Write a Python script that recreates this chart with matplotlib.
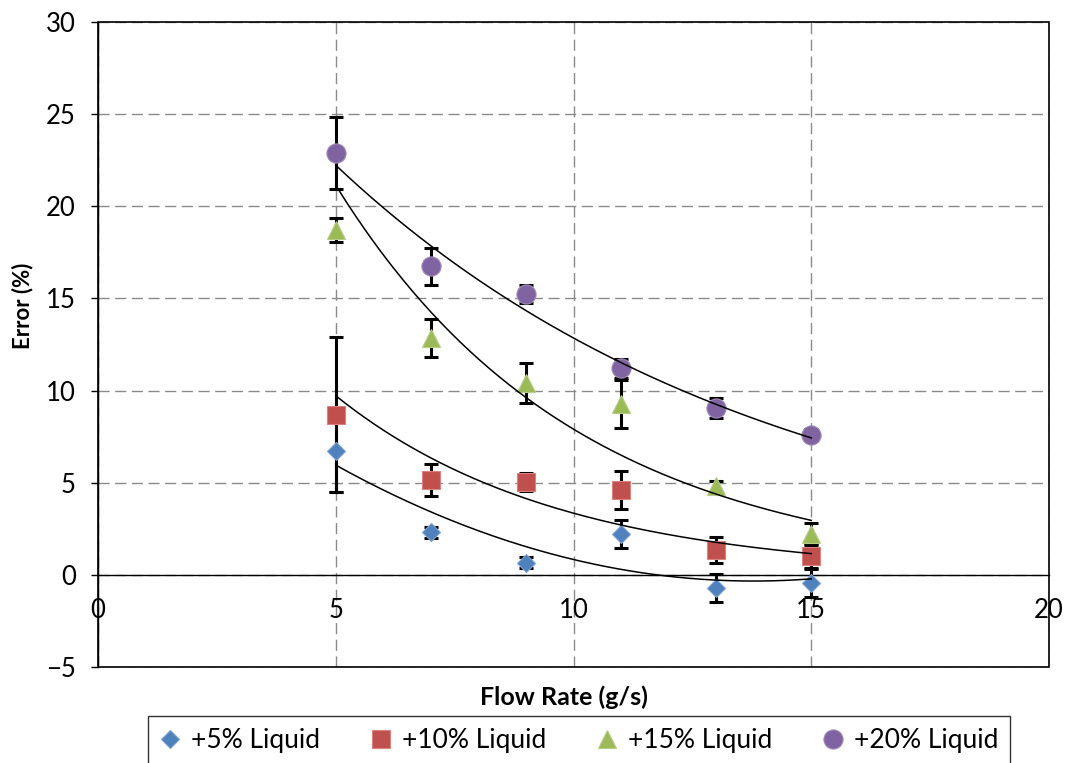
import numpy as np
import matplotlib
matplotlib.use('Agg')
import matplotlib.pyplot as plt
from matplotlib.patches import Rectangle

plt.rcParams['font.family'] = ['Lato', 'DejaVu Sans']

flow = [5, 7, 9, 11, 13, 15]
err5 = [6.7, 2.3, 0.65, 2.2, -0.7, -0.45]
err10 = [8.7, 5.15, 5.05, 4.6, 1.35, 1.0]
err15 = [18.7, 12.85, 10.4, 9.25, 4.8, 2.2]
err20 = [22.9, 16.75, 15.25, 11.2, 9.05, 7.6]
sd5 = [2.2, 0.3, 0.3, 0.75, 0.75, 0.75]
sd10 = [4.2, 0.85, 0.5, 1.05, 0.7, 0.65]
sd15 = [0.65, 1.05, 1.1, 1.3, 0.3, 0.6]
sd20 = [1.95, 1.0, 0.5, 0.5, 0.55, 0.3]
labels = ['+5% Liquid', '+10% Liquid', '+15% Liquid', '+20% Liquid']

fig = plt.figure(figsize=(10.7, 7.63), dpi=100)
ax = fig.add_axes([98/1070, 1 - 667/763, 951/1070, 645/763])

series = [
    (err5, sd5, 'D', 9.3, '#4F81BD', '#7EA1D0', 'poly'),
    (err10, sd10, 's', 13.5, '#C0504D', '#D98280', 'exp'),
    (err15, sd15, '^', 13.5, '#9BBB59', '#B5CD85', 'exp'),
    (err20, sd20, 'o', 13.8, '#8064A2', '#A08BBD', 'exp'),
]

x = np.array(flow, dtype=float)
xs = np.linspace(5, 15, 200)
for (y, sd, mk, ms, col, ecol, fit), lab in zip(series, labels):
    y = np.array(y)
    ax.errorbar(x, y, yerr=sd, fmt='none', ecolor='black', elinewidth=2.2,
                capsize=5, capthick=2.2, zorder=2)
    ax.plot(x, y, ls='none', marker=mk, ms=ms, mfc=col, mec=ecol, mew=0.8,
            label=lab, zorder=3)
    # excel style trendlines: exponential, or 2nd order poly for the 5% set
    if fit == 'exp':
        b, a = np.polyfit(x, np.log(y), 1)
        ys = np.exp(a + b * xs)
    else:
        ys = np.polyval(np.polyfit(x, y, 2), xs)
    ax.plot(xs, ys, color='black', lw=1.1, zorder=4)

ax.set_xlim(0, 20)
ax.set_ylim(-5, 30)
ax.set_xticks([0, 5, 10, 15, 20])
ax.set_yticks(range(-5, 31, 5))
ax.grid(True, color='#8a8a8a', lw=1.0, ls=(0, (8, 4)), zorder=0)
ax.set_axisbelow(True)

ax.spines['bottom'].set_position(('data', 0))
ax.spines['top'].set_visible(False)
ax.spines['right'].set_visible(False)
for s in ['bottom', 'left']:
    ax.spines[s].set_linewidth(1.0)
ax.add_patch(Rectangle((0, 0), 1, 1, transform=ax.transAxes, fill=False,
                       ec='black', lw=1.2, clip_on=False, zorder=5))

ax.tick_params(axis='y', direction='out', length=5, width=1, pad=11, labelsize=18.5)
ax.tick_params(axis='x', direction='out', length=0, pad=17, labelsize=18.5)

ax.set_xlabel('Flow Rate (g/s)', fontsize=18, fontweight='bold')
ax.set_ylabel('Error (%)', fontsize=16, fontweight='bold')
ax.xaxis.set_label_coords(0.49, -0.028)
ax.yaxis.set_label_coords(-0.068, 0.56)

leg = fig.legend(loc='upper center', bbox_to_anchor=(579/1070, 1 - 716/763), ncol=4,
                 fontsize=19, frameon=True, fancybox=False, markerscale=1.0,
                 handlelength=0.8, handletextpad=0.4, columnspacing=1.9,
                 borderpad=0.45, borderaxespad=0)
leg.get_frame().set_edgecolor('black')
leg.get_frame().set_linewidth(1.0)

fig.savefig('out.png', dpi=100)
